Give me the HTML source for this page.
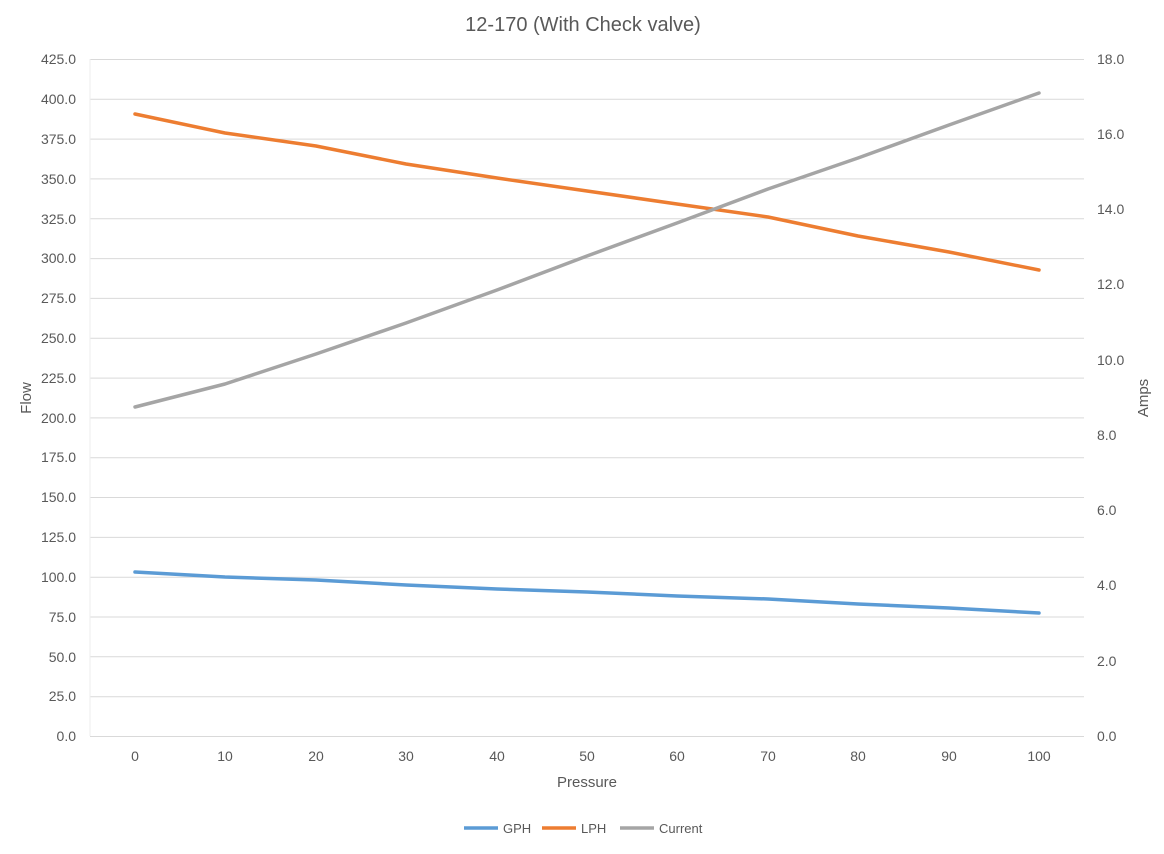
<!DOCTYPE html>
<html><head><meta charset="utf-8"><style>
body{margin:0;background:#fff;}
svg text{font-family:"Liberation Sans",sans-serif;fill:#595959;}
</style></head><body>
<svg width="1164" height="849" viewBox="0 0 1164 849" xmlns="http://www.w3.org/2000/svg">
<rect width="1164" height="849" fill="#fff"/>
<text x="583" y="31" font-size="20" text-anchor="middle">12-170 (With Check valve)</text>
<g stroke="#d9d9d9" stroke-width="1">
<line x1="90" y1="59.5" x2="1084" y2="59.5"/>
<line x1="90" y1="99.3" x2="1084" y2="99.3"/>
<line x1="90" y1="139.1" x2="1084" y2="139.1"/>
<line x1="90" y1="178.9" x2="1084" y2="178.9"/>
<line x1="90" y1="218.8" x2="1084" y2="218.8"/>
<line x1="90" y1="258.6" x2="1084" y2="258.6"/>
<line x1="90" y1="298.4" x2="1084" y2="298.4"/>
<line x1="90" y1="338.2" x2="1084" y2="338.2"/>
<line x1="90" y1="378.1" x2="1084" y2="378.1"/>
<line x1="90" y1="417.9" x2="1084" y2="417.9"/>
<line x1="90" y1="457.7" x2="1084" y2="457.7"/>
<line x1="90" y1="497.5" x2="1084" y2="497.5"/>
<line x1="90" y1="537.4" x2="1084" y2="537.4"/>
<line x1="90" y1="577.2" x2="1084" y2="577.2"/>
<line x1="90" y1="617" x2="1084" y2="617"/>
<line x1="90" y1="656.8" x2="1084" y2="656.8"/>
<line x1="90" y1="696.7" x2="1084" y2="696.7"/>
<line x1="90" y1="736.5" x2="1084" y2="736.5"/>
<line x1="90" y1="59" x2="90" y2="736" stroke="#eee"/>
</g>
<g font-size="14" text-anchor="end">
<text x="76" y="64">425.0</text><text x="76" y="104">400.0</text><text x="76" y="144">375.0</text>
<text x="76" y="184">350.0</text><text x="76" y="224">325.0</text><text x="76" y="263">300.0</text>
<text x="76" y="303">275.0</text><text x="76" y="343">250.0</text><text x="76" y="383">225.0</text>
<text x="76" y="423">200.0</text><text x="76" y="462">175.0</text><text x="76" y="502">150.0</text>
<text x="76" y="542">125.0</text><text x="76" y="582">100.0</text><text x="76" y="622">75.0</text>
<text x="76" y="662">50.0</text><text x="76" y="701">25.0</text><text x="76" y="741">0.0</text>
</g>
<g font-size="14" text-anchor="start">
<text x="1097" y="64">18.0</text><text x="1097" y="139">16.0</text><text x="1097" y="214">14.0</text>
<text x="1097" y="289">12.0</text><text x="1097" y="365">10.0</text><text x="1097" y="440">8.0</text>
<text x="1097" y="515">6.0</text><text x="1097" y="590">4.0</text><text x="1097" y="666">2.0</text>
<text x="1097" y="741">0.0</text>
</g>
<g font-size="14" text-anchor="middle">
<text x="135" y="761">0</text><text x="225" y="761">10</text><text x="316" y="761">20</text>
<text x="406" y="761">30</text><text x="497" y="761">40</text><text x="587" y="761">50</text>
<text x="677" y="761">60</text><text x="768" y="761">70</text><text x="858" y="761">80</text>
<text x="949" y="761">90</text><text x="1039" y="761">100</text>
<text x="587" y="787" font-size="15">Pressure</text>
</g>
<text font-size="15" text-anchor="middle" transform="translate(31,398) rotate(-90)">Flow</text>
<text font-size="15" text-anchor="middle" transform="translate(1148,398) rotate(-90)">Amps</text>
<g fill="none" stroke-width="3.5" stroke-linejoin="round" stroke-linecap="round">
<polyline stroke="#5b9bd5" points="135,572 225,577 316,580 406,585 497,589 587,592 677,596 768,599 858,604 949,608 1039,613"/>
<polyline stroke="#ed7d31" points="135,114 225,133 316,146 406,164 497,178 587,191 677,204 768,217 858,236 949,252 1039,270"/>
<polyline stroke="#a5a5a5" points="135,407 225,384 316,354 406,323 497,290 587,256 677,223 768,189 858,158 949,125 1039,93"/>
</g>
<g font-size="13">
<line x1="464" y1="828" x2="498" y2="828" stroke="#5b9bd5" stroke-width="3.5"/>
<text x="503" y="833">GPH</text>
<line x1="542" y1="828" x2="576" y2="828" stroke="#ed7d31" stroke-width="3.5"/>
<text x="581" y="833">LPH</text>
<line x1="620" y1="828" x2="654" y2="828" stroke="#a5a5a5" stroke-width="3.5"/>
<text x="659" y="833">Current</text>
</g>
</svg>
</body></html>
